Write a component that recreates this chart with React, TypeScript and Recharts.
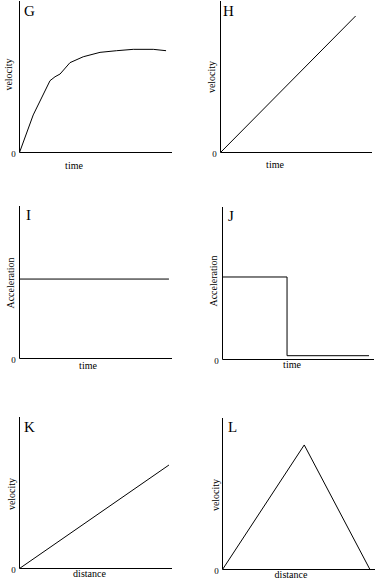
import React from "react";
import { LineChart, Line, XAxis, YAxis, Label } from "recharts";

const FONT = '"Liberation Serif", "Times New Roman", serif';

// G: velocity against time, rising fast then levelling off
const gTime = [0, 9, 20, 23.3, 26.6, 33.1, 41.8, 52.8, 63.7, 74.6, 87.7, 96.1];
const gVelocity = [0, 24.8, 47.4, 50, 51.8, 59.3, 63.2, 66.1, 67.2, 68.1, 68.1, 67.2];

// H: velocity against time, straight line
const hTime = [0, 89.2];
const hVelocity = [0, 90.1];

// I: constant acceleration
const iTime = [0, 98];
const iAcceleration = [52.1, 52.1];

// J: acceleration that drops to almost nothing
const jTime = [0, 42.6, 42.6, 96.7];
const jAcceleration = [54.1, 54.1, 2.5, 2.5];

// K: velocity against distance
const kDistance = [0, 98];
const kVelocity = [0, 68.3];

// L: velocity up then back down against distance
const lDistance = [0, 53.6, 96.7];
const lVelocity = [0, 82.2, 0];

const zip = (xs: number[], ys: number[]) => xs.map((x, i) => ({ x, y: ys[i] }));

const BOX_W = 189;
const BOX_H = 195;
const AXIS_SIZE = 1;

type Panel = {
  letter: string;
  xLabel: string;
  yLabel: string;
  data: { x: number; y: number }[];
  col: number;
  row: number;
  // plot rect in page px
  plot: { left: number; top: number; right: number; bottom: number };
  letterAt: [number, number];
  xLabelAt: [number, number];
  yLabelAt: [number, number];
};

const panels: Panel[] = [
  {
    letter: "G", xLabel: "time", yLabel: "velocity", data: zip(gTime, gVelocity),
    col: 0, row: 0, plot: { left: 19.5, top: 1, right: 172, bottom: 152.5 },
    letterAt: [24, 16], xLabelAt: [74, 169], yLabelAt: [8, 74.5],
  },
  {
    letter: "H", xLabel: "time", yLabel: "velocity", data: zip(hTime, hVelocity),
    col: 1, row: 0, plot: { left: 220.5, top: 1, right: 372, bottom: 152.5 },
    letterAt: [223, 16], xLabelAt: [275, 168], yLabelAt: [211.5, 77],
  },
  {
    letter: "I", xLabel: "time", yLabel: "Acceleration", data: zip(iTime, iAcceleration),
    col: 0, row: 1, plot: { left: 19.5, top: 206, right: 172, bottom: 358.5 },
    letterAt: [26, 220], xLabelAt: [88, 369], yLabelAt: [10.5, 283],
  },
  {
    letter: "J", xLabel: "time", yLabel: "Acceleration", data: zip(jTime, jAcceleration),
    col: 1, row: 1, plot: { left: 222.5, top: 207, right: 374, bottom: 359.5 },
    letterAt: [228, 221], xLabelAt: [292, 368], yLabelAt: [213.5, 281],
  },
  {
    letter: "K", xLabel: "distance", yLabel: "velocity", data: zip(kDistance, kVelocity),
    col: 0, row: 2, plot: { left: 19.5, top: 417, right: 172, bottom: 568.5 },
    letterAt: [24, 432], xLabelAt: [89.5, 577], yLabelAt: [11.5, 494],
  },
  {
    letter: "L", xLabel: "distance", yLabel: "velocity", data: zip(lDistance, lVelocity),
    col: 1, row: 2, plot: { left: 222.5, top: 418, right: 375, bottom: 569.5 },
    letterAt: [228, 432], xLabelAt: [291, 578], yLabelAt: [215, 495],
  },
];

const GraphPanel: React.FC<{ p: Panel }> = ({ p }) => {
  const bx = p.col * BOX_W;
  const by = p.row * BOX_H;
  // the axes take AXIS_SIZE px each, so the plot edges land on p.plot
  const margin = {
    left: p.plot.left - bx - AXIS_SIZE,
    top: p.plot.top - by,
    right: bx + BOX_W - p.plot.right,
    bottom: by + BOX_H - p.plot.bottom - AXIS_SIZE,
  };

  return (
    <div style={{ position: "absolute", left: bx, top: by }}>
      <LineChart width={BOX_W} height={BOX_H} data={p.data} margin={margin}>
        <XAxis
          dataKey="x"
          type="number"
          domain={[0, 100]}
          allowDataOverflow
          height={AXIS_SIZE}
          ticks={[0]}
          tick={false}
          tickLine={false}
          axisLine={{ stroke: "#000", strokeWidth: 1 }}
        >
          <Label
            content={() => (
              <text
                x={p.xLabelAt[0] - bx}
                y={p.xLabelAt[1] - by}
                textAnchor="middle"
                fontFamily={FONT}
                fontSize={10}
                fill="#000"
              >
                {p.xLabel}
              </text>
            )}
          />
        </XAxis>
        <YAxis
          type="number"
          domain={[0, 100]}
          allowDataOverflow
          ticks={[0]}
          width={AXIS_SIZE}
          tickLine={false}
          axisLine={{ stroke: "#000", strokeWidth: 1 }}
          tick={(t: any) => (
            <text
              x={p.plot.left - 6 - bx}
              y={t.y + 4.5}
              textAnchor="middle"
              fontFamily={FONT}
              fontSize={9}
              fill="#000"
            >
              {t.payload.value}
            </text>
          )}
        >
          <Label
            content={() => (
              <text
                transform={`translate(${p.yLabelAt[0] - bx},${p.yLabelAt[1] - by}) rotate(-90)`}
                textAnchor="middle"
                dominantBaseline="central"
                fontFamily={FONT}
                fontSize={10}
                fill="#000"
              >
                {p.yLabel}
              </text>
            )}
          />
          <Label
            content={() => (
              <text
                x={p.letterAt[0] - bx}
                y={p.letterAt[1] - by}
                fontFamily={FONT}
                fontSize={15}
                fill="#000"
              >
                {p.letter}
              </text>
            )}
          />
        </YAxis>
        <Line
          type="linear"
          dataKey="y"
          stroke="#000"
          strokeWidth={1}
          dot={false}
          activeDot={false}
          isAnimationActive={false}
        />
      </LineChart>
    </div>
  );
};

const App: React.FC = () => (
  <div
    style={{
      position: "absolute",
      left: 0,
      top: 0,
      width: 378,
      height: 585,
      background: "#fff",
      overflow: "hidden",
    }}
  >
    {panels.map((p) => (
      <GraphPanel key={p.letter} p={p} />
    ))}
  </div>
);

export default App;
